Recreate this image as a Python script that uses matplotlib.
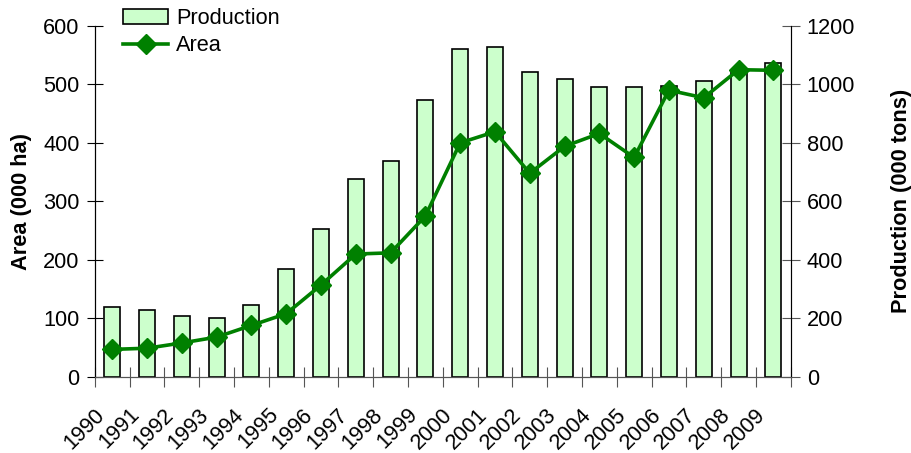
import matplotlib
matplotlib.use("Agg")
import matplotlib.pyplot as plt
import matplotlib.transforms as mtransforms
from matplotlib.patches import Patch
from matplotlib.lines import Line2D

plt.rcParams['font.family'] = ['Liberation Sans', 'DejaVu Sans']

years = [str(y) for y in range(1990, 2010)]
# production, 000 tons (right axis)
production = [240, 228, 209, 202, 247, 369, 506, 676, 738, 947,
              1121, 1127, 1042, 1017, 990, 990, 993, 1010, 1045, 1072]
# area, 000 ha (left axis)
area = [47, 49, 58, 68, 88, 108, 157, 210, 212, 275,
        400, 419, 348, 394, 416, 375, 490, 477, 525, 524]

fs = 15.7

fig = plt.figure(figsize=(9.12, 4.53), dpi=100)
ax = fig.add_axes([0.104, 0.168, 0.763, 0.775])
ax2 = ax.twinx()

x = list(range(len(years)))

# bars on the right axis, line on the left axis drawn on top
ax2.bar(x, production, width=0.46, color='#CCFFCC', edgecolor='black', linewidth=1.2, zorder=1)
ax.set_zorder(ax2.get_zorder() + 1)
ax.patch.set_visible(False)
ax.plot(x, area, color='#008000', lw=2.6, marker='D', markersize=10, zorder=3)

ax.set_xlim(-0.5, len(years) - 0.5)
ax.set_ylim(0, 600)
ax2.set_ylim(0, 1200)
ax.set_yticks(range(0, 601, 100))
ax2.set_yticks(range(0, 1201, 200))

# category boundary ticks on x, labels on the category centres
ax.set_xticks([i - 0.5 for i in range(len(years) + 1)])
ax.set_xticklabels([])
ax.set_xticks(x, minor=True)
ax.set_xticklabels(years, minor=True, rotation=45, ha='right', va='center',
                   rotation_mode='anchor')
ax.tick_params(axis='x', which='minor', length=0, pad=25, labelsize=fs)
ax.tick_params(axis='x', which='major', direction='inout', length=14, color='#555555')
shift = mtransforms.ScaledTranslation(-11 / 100, 0, fig.dpi_scale_trans)
for lab in ax.get_xticklabels(minor=True):
    lab.set_transform(lab.get_transform() + shift)

ax.tick_params(axis='y', direction='inout', length=12, labelsize=fs, pad=5)
ax2.tick_params(axis='y', direction='inout', length=13, labelsize=fs, pad=5, color='#555555')

ax.spines['top'].set_visible(False)
ax2.spines['top'].set_visible(False)
ax.spines['bottom'].set_color('#555555')
ax2.spines['bottom'].set_color('#555555')
ax2.spines['right'].set_color('#555555')

ax.set_ylabel("Area (000 ha)", fontsize=fs, fontweight='bold', labelpad=8)
ax2.set_ylabel("Production (000 tons)", fontsize=fs, fontweight='bold', labelpad=26)

handles = [Patch(facecolor='#CCFFCC', edgecolor='black', linewidth=1.2),
           Line2D([], [], color='#008000', lw=2.6, marker='D', markersize=10)]
fig.legend(handles, ["Production", "Area"], loc='upper left',
           bbox_to_anchor=(0.135, 0.982), frameon=False, fontsize=fs,
           handlelength=2.06, handletextpad=0.37, labelspacing=0.28,
           borderpad=0, borderaxespad=0)

fig.savefig("out.png", dpi=100)
